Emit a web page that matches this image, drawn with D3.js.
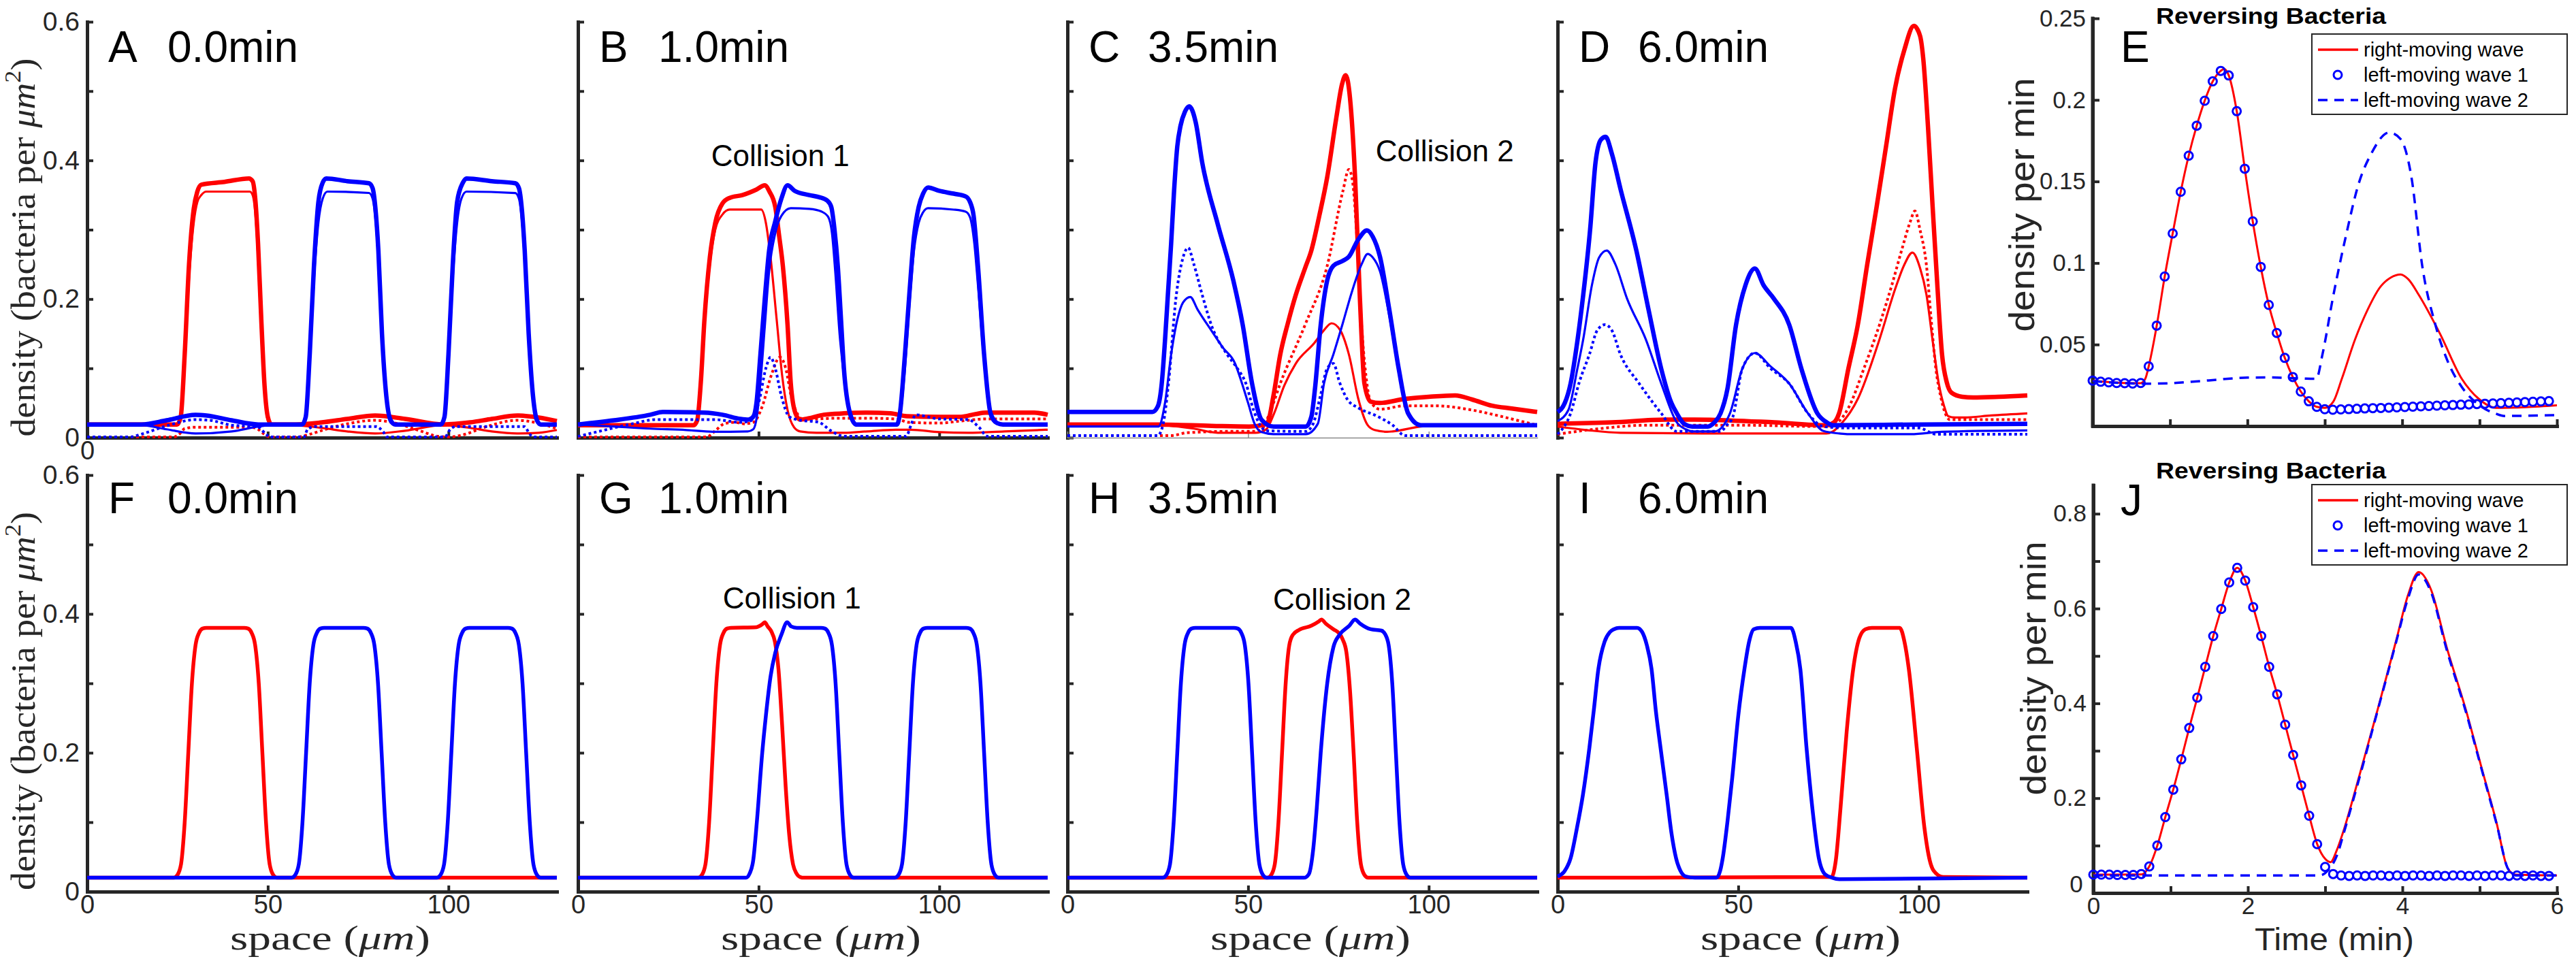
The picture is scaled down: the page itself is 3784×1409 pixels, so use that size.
<!DOCTYPE html>
<html>
<head>
<meta charset="utf-8">
<script src="https://cdn.jsdelivr.net/npm/d3@7"></script>
<style>
  body { margin: 0; background: #fff; }
  svg { display: block; font-family: "Liberation Sans", Arial, sans-serif; }
</style>
</head>
<body>
<script>
// ---- axis ticks / labels ----
const spaceTicks = [0, 50, 100];
const densityTicks = [0, 0.1, 0.2, 0.3, 0.4, 0.5, 0.6];
const densityLabels = [0, 0.2, 0.4, 0.6];
const timeTicks = [0, 1, 2, 3, 4, 5, 6];
const timeLabels = [0, 2, 4, 6];
const rateTicksE = [0.05, 0.1, 0.15, 0.2, 0.25];
const rateTicksJ = [0, 0.1, 0.2, 0.3, 0.4, 0.5, 0.6, 0.7, 0.8];
const rateLabelsJ = [0, 0.2, 0.4, 0.6, 0.8];
const topLetters = ['A', 'B', 'C', 'D'];
const bottomLetters = ['F', 'G', 'H', 'I'];
const snapTimes = ['0.0min', '1.0min', '3.5min', '6.0min'];
const legendNames = ['right-moving wave', 'left-moving wave 1', 'left-moving wave 2'];

// ---- top row: total (thick), subpopulation (thin), reversing part (dotted) ----
const aRedThick = [[0,.019],[24.9,.019],[25.9,.03],[27,.12],[28.2,.25],[29.5,.33],[30.5,.355],[31.6,.365],[38,.369],[44.8,.374],[45.8,.37],[46.6,.34],[47.3,.28],[48.2,.17],[49.1,.075],[50,.03],[51,.019],[57.7,.019],[65,.022],[72,.027],[79.7,.032],[88,.027],[98.6,.019],[106,.022],[112,.027],[119,.032],[125,.029],[130,.024]];
const aRedThin = [[0,.019],[24.9,.019],[25.9,.028],[27,.11],[28.2,.23],[29.5,.31],[30.5,.34],[31.6,.35],[33,.355],[45,.355],[45.8,.35],[46.6,.32],[47.3,.26],[48.2,.15],[49.1,.065],[50,.025],[51,.019],[57.7,.018],[65,.014],[72,.009],[79.7,.006],[88,.01],[98.6,.018],[106,.014],[112,.009],[119,.006],[125,.007],[130,.011]];
const aRedDot = [[0,.001],[24,.001],[25.5,.005],[27,.013],[30,.015],[45,.015],[47,.013],[49,.005],[50.5,.001],[58,.001],[61,.004],[66,.012],[72,.02],[79.7,.025],[86,.02],[92,.01],[97,.002],[100,.001],[104,.004],[110,.015],[119,.025],[124,.022],[130,.013]];
const aBlueThick = [[0,.019],[15,.019],[22,.025],[30,.033],[33,.032],[40,.025],[47.4,.019],[59.5,.019],[60.5,.03],[61.6,.12],[62.8,.25],[64,.34],[65.2,.368],[66.2,.374],[72,.37],[78,.367],[79,.36],[79.8,.33],[80.6,.27],[81.6,.15],[82.8,.06],[84,.025],[85.3,.019],[97.9,.019],[98.9,.03],[100,.12],[101.2,.25],[102.4,.34],[104,.368],[105,.374],[112,.37],[118.5,.367],[119.5,.36],[120.3,.33],[121.1,.27],[122.2,.15],[123.4,.06],[124.5,.025],[125.5,.019],[130,.019]];
const aBlueThin = [[0,.019],[15,.018],[22,.012],[30,.006],[40,.009],[47.4,.016],[52.6,.019],[59.5,.019],[60.5,.028],[61.6,.11],[62.8,.23],[64,.31],[65.2,.345],[66.5,.355],[78,.353],[79,.345],[79.8,.315],[80.6,.255],[81.6,.14],[82.8,.055],[84,.022],[85.3,.019],[97.9,.019],[98.9,.028],[100,.11],[101.2,.23],[102.4,.31],[103.6,.345],[105,.355],[118.5,.353],[119.5,.345],[120.3,.315],[121.1,.255],[122.2,.14],[123.4,.055],[124.5,.022],[125.5,.019],[130,.019]];
const aBlueDot = [[0,.001],[12,.001],[15,.005],[22,.017],[30,.026],[34,.025],[40,.018],[47,.016],[49.5,.005],[50.5,.001],[60,.001],[61,.012],[63,.016],[80,.016],[82,.008],[83,.001],[99,.001],[100.5,.012],[102,.016],[121,.016],[122.5,.005],[123.5,.001],[130,.001]];

const bRedThick = [[0,.018],[32,.018],[33,.025],[34,.08],[35,.17],[36.5,.26],[38,.31],[40,.338],[42,.346],[45.5,.35],[49.4,.358],[51.7,.364],[53,.355],[54.6,.333],[55.7,.29],[56.7,.248],[58,.163],[58.9,.078],[60.2,.035],[61.5,.026],[64,.028],[68,.033],[73.6,.035],[80,.036],[86.5,.035],[91,.031],[100,.03],[106,.03],[110,.034],[113,.036],[126.3,.036],[130,.033]];
const bRedThin = [[0,.018],[32,.018],[33,.024],[34,.075],[35,.16],[36.5,.25],[38,.3],[40,.322],[42,.329],[50.7,.329],[52,.31],[53.3,.26],[55,.17],[56.5,.09],[58,.04],[59.8,.015],[61.5,.009],[66,.007],[73.6,.007],[80,.009],[88,.0115],[92,.0115],[100,.008],[108,.007],[118,.009],[130,.0115]];
const bRedDot = [[0,.001],[35.6,.001],[38,.01],[40.5,.02],[43.4,.022],[46,.02],[48.5,.022],[51,.045],[53.5,.09],[55.9,.116],[57.5,.1],[59,.06],[61,.032],[62.4,.026],[66,.027],[72,.028],[80,.028],[88,.027],[91.7,.022],[100,.021],[106,.024],[113,.027],[130,.027]];
const bBlueThick = [[0,.019],[10,.025],[20,.033],[23.5,.037],[35,.036],[40,.033],[45,.027],[47.2,.026],[48.5,.03],[49.4,.05],[50.5,.12],[51.7,.2],[52.9,.27],[54.6,.312],[56.3,.345],[58,.364],[60,.356],[64,.35],[66.7,.347],[69,.342],[70.1,.333],[71,.3],[71.9,.248],[72.8,.17],[73.6,.1],[75.3,.035],[77,.019],[88.3,.019],[89.1,.035],[90.5,.12],[91.7,.206],[93,.29],[94.3,.333],[95.5,.352],[96.9,.361],[100,.356],[104,.352],[107.3,.348],[108.5,.34],[109.5,.32],[110.7,.248],[112.4,.12],[114.2,.035],[116,.021],[117.6,.019],[130,.019]];
const bBlueThin = [[0,.019],[10,.016],[20,.013],[30,.011],[37.3,.0085],[47,.009],[48.5,.012],[49.5,.03],[50.5,.08],[51.7,.16],[52.9,.24],[54.6,.295],[56.3,.32],[58.9,.331],[64,.33],[67.5,.326],[69.3,.318],[70.3,.295],[71.2,.24],[72.4,.15],[73.6,.09],[75.3,.03],[77,.019],[88.3,.019],[89.1,.03],[90.5,.1],[91.7,.19],[93,.27],[94.3,.31],[95.5,.325],[96.9,.331],[104,.329],[107.3,.326],[108.5,.318],[109.7,.28],[110.7,.22],[112.4,.11],[114.2,.03],[116,.02],[117.6,.019],[130,.019]];
const bBlueDot = [[0,.0017],[5,.008],[15,.02],[21.6,.026],[38,.026],[45,.022],[47.7,.024],[50,.05],[52,.1],[53.3,.116],[54.6,.1],[56.3,.06],[58.5,.03],[60.6,.026],[66.7,.022],[70,.01],[73.6,.002],[90.8,.002],[92.3,.02],[93.4,.033],[100,.027],[108,.026],[111,.015],[113.3,.002],[130,.002]];

const cRedThick = [[0,.019],[25,.019],[40,.017],[50.3,.016],[54,.018],[55.4,.022],[57,.06],[58.9,.12],[61,.165],[63.2,.206],[65.8,.245],[67.5,.27],[69.7,.32],[71.9,.376],[74.4,.461],[76,.51],[77,.523],[78.2,.49],[79.6,.376],[80.9,.206],[82.2,.078],[83.9,.052],[86.5,.05],[93.4,.056],[100,.059],[107.3,.061],[112,.055],[117.6,.046],[123,.042],[130,.037]];
const cRedThin = [[0,.019],[25,.018],[35,.013],[41.6,.007],[52,.007],[55,.012],[57.2,.035],[60,.075],[63.2,.107],[68.4,.137],[71,.155],[73.1,.165],[75.5,.155],[77.9,.12],[80.5,.056],[83.1,.018],[85,.011],[88.5,.0085],[90,.009],[97.8,.016],[105,.018],[130,.019]];
const cRedDot = [[0,.003],[28.7,.003],[33,.007],[45,.009],[51.8,.009],[53.7,.012],[56.3,.04],[58.9,.078],[65.8,.163],[71.9,.248],[76.2,.355],[77.9,.387],[78.9,.37],[80.1,.29],[81.4,.163],[82.6,.09],[83.9,.052],[86.5,.041],[93.4,.046],[102,.046],[110.7,.041],[119,.032],[123.7,.026],[130,.018]];
const cBlueThick = [[0,.037],[23.5,.037],[25,.045],[26.1,.078],[27,.14],[27.8,.206],[28.7,.28],[29.5,.355],[30.4,.42],[31.3,.45],[32.5,.47],[33.7,.478],[35.5,.455],[37.3,.397],[41.6,.308],[45.9,.227],[48.5,.163],[51.1,.078],[53.7,.026],[57,.016],[66,.016],[67.5,.03],[68.5,.07],[70.1,.163],[71.9,.227],[73.6,.248],[76.2,.255],[77.9,.261],[80.5,.286],[82.9,.299],[84.5,.29],[86.5,.261],[89.1,.184],[91.7,.099],[94.3,.035],[97.8,.018],[130,.018]];
const cBlueThin = [[0,.016],[25.2,.016],[27,.05],[28.7,.12],[30.4,.17],[32,.195],[34,.203],[36,.185],[39.9,.154],[43,.13],[46.4,.107],[48.2,.08],[50,.05],[51.8,.02],[53.7,.008],[57,.005],[66,.005],[69.3,.02],[71,.078],[73.6,.12],[76.2,.165],[78.7,.21],[81.4,.25],[83.1,.265],[84.5,.26],[86.5,.24],[89.1,.175],[91.7,.095],[94.3,.033],[97.8,.018],[130,.018]];
const cBlueDot = [[0,.003],[25,.003],[26.5,.02],[28,.08],[30,.2],[32,.26],[33.4,.274],[35,.25],[37.3,.206],[40,.16],[44.2,.12],[47,.1],[49.4,.078],[51.5,.04],[52.9,.022],[55,.01],[66,.009],[68,.02],[70,.06],[71.9,.1],[73.6,.107],[75.3,.08],[77.5,.055],[80.5,.043],[85.7,.031],[90,.018],[93.4,.003],[130,.003]];

const dRedThick = [[0,.02],[15,.022],[30,.026],[38,.026],[60,.022],[74.4,.018],[76.5,.022],[77.9,.035],[80.5,.1],[83.1,.163],[85.7,.25],[88.3,.333],[90.9,.42],[93.4,.504],[96,.56],[98.6,.594],[100.3,.58],[101.2,.547],[102.5,.45],[103.8,.333],[105.1,.22],[106.4,.12],[107.7,.08],[109,.065],[112,.059],[115,.058],[122,.059],[130,.061]];
const dRedThin = [[0,.016],[8,.011],[17.4,.007],[40,.006],[60,.006],[74.4,.006],[76.2,.009],[78.5,.02],[83.1,.056],[89.1,.142],[93.4,.214],[96,.25],[98.2,.267],[100.3,.245],[102.1,.206],[103.8,.14],[105.5,.078],[107,.045],[108.1,.031],[110,.029],[112.4,.029],[120,.032],[130,.035]];
const dRedDot = [[0,.005],[10,.012],[25,.018],[50,.018],[74.4,.016],[77,.02],[80.5,.043],[84.8,.1],[89.1,.163],[92.5,.22],[95.2,.27],[97.5,.31],[98.9,.327],[100.3,.3],[102.1,.248],[103.4,.17],[104.7,.099],[106,.06],[107.3,.035],[108.5,.026],[130,.026]];
const dBlueThick = [[0,.037],[2,.05],[3.6,.078],[5.5,.14],[7.1,.206],[9,.3],[10.5,.397],[12,.43],[13.3,.434],[15,.41],[17.4,.359],[21.8,.27],[25.2,.184],[28.7,.099],[31.5,.05],[33,.035],[35,.02],[37.3,.016],[41.6,.016],[43.4,.022],[45.1,.035],[47,.07],[49.4,.163],[52,.22],[54.6,.244],[57,.22],[59.8,.201],[64.1,.163],[67.5,.099],[71.9,.035],[74.5,.022],[76.2,.018],[100,.019],[130,.02]];
const dBlueThin = [[0,.024],[3,.04],[5.5,.1],[7.1,.142],[9.5,.22],[11.5,.26],[13.6,.27],[16,.25],[19.2,.201],[24.4,.142],[28.7,.078],[33,.022],[35.5,.012],[37.3,.009],[43.4,.009],[45.5,.015],[47.7,.035],[51.1,.099],[54.6,.122],[58.9,.103],[64.1,.078],[69.3,.035],[73.6,.0095],[78,.006],[80.5,.005],[97.8,.005],[106.4,.0085],[130,.0105]];
const dBlueDot = [[0,.005],[3.6,.035],[6,.08],[8.8,.12],[11,.155],[13.1,.163],[15,.155],[17.4,.12],[22.6,.078],[28.7,.035],[33,.009],[45,.009],[46.8,.018],[48.5,.03],[51.1,.099],[54.6,.122],[58.9,.1],[64.1,.078],[69.3,.035],[73.6,.016],[80,.014],[100,.014],[104.7,.005],[130,.005]];

// ---- bottom row: non-reversing bacteria ----
const fRed = [[0,.02],[24,.02],[25,.024],[26,.04],[27,.1],[28,.2],[29,.3],[30,.355],[31,.373],[32,.379],[33,.38],[43.5,.38],[44.5,.379],[45.5,.373],[46.5,.355],[47.5,.3],[48.5,.2],[49.5,.1],[50.5,.04],[51.5,.024],[52.5,.02],[130,.02]];
const fBlue = [[0,.02],[56.6,.02],[57.6,.024],[58.6,.04],[59.6,.1],[60.6,.2],[61.6,.3],[62.6,.355],[63.6,.373],[64.6,.379],[65.6,.38],[76.5,.38],[77.5,.379],[78.5,.373],[79.5,.355],[80.5,.3],[81.5,.2],[82.5,.1],[83.5,.04],[84.5,.024],[85.5,.02],[96.8,.02],[97.8,.024],[98.8,.04],[99.8,.1],[100.8,.2],[101.8,.3],[102.8,.355],[103.8,.373],[104.8,.379],[105.8,.38],[116.5,.38],[117.5,.379],[118.5,.373],[119.5,.355],[120.5,.3],[121.5,.2],[122.5,.1],[123.5,.04],[124.5,.024],[125.5,.02],[130,.02]];
const gRed = [[0,.02],[33.3,.02],[34.3,.024],[35.3,.04],[36.3,.1],[37.3,.2],[38.3,.3],[39.3,.355],[40.3,.373],[41.3,.379],[42.3,.38],[49.4,.381],[51,.385],[51.7,.388],[52.5,.382],[53.5,.375],[54.5,.36],[55.5,.32],[56.5,.24],[57.5,.15],[58.5,.08],[59.5,.04],[60.5,.026],[61.5,.021],[62.5,.02],[130,.02]];
const gBlue = [[0,.02],[46.5,.02],[47.5,.026],[48.5,.045],[49.5,.1],[51,.2],[52,.253],[53.3,.31],[54.6,.344],[56.3,.37],[57.9,.388],[59,.382],[60.6,.38],[67.3,.38],[68.3,.379],[69.3,.373],[70.3,.355],[71.3,.3],[72.3,.2],[73.3,.1],[74.3,.04],[75.3,.024],[76.3,.02],[87.7,.02],[88.7,.024],[89.7,.04],[90.7,.1],[91.7,.2],[92.7,.3],[93.7,.355],[94.7,.373],[95.7,.379],[96.7,.38],[107.4,.38],[108.4,.379],[109.4,.373],[110.4,.355],[111.4,.3],[112.4,.2],[113.4,.1],[114.4,.04],[115.4,.024],[116.4,.02],[130,.02]];
const hRed = [[0,.02],[55.4,.02],[56.4,.024],[57.4,.04],[58.4,.1],[59.4,.2],[60.4,.3],[61.4,.355],[62.4,.37],[64.1,.377],[67.5,.383],[69.5,.389],[70.3,.392],[71.5,.386],[73.6,.378],[75.2,.372],[76.2,.363],[77.2,.345],[78.2,.29],[79.2,.2],[80.2,.1],[81.2,.04],[82.2,.024],[83.2,.02],[130,.02]];
const hBlue = [[0,.02],[26.4,.02],[27.4,.024],[28.4,.04],[29.4,.1],[30.4,.2],[31.4,.3],[32.4,.355],[33.4,.373],[34.4,.379],[35.4,.38],[46.1,.38],[47.1,.379],[48.1,.373],[49.1,.355],[50.1,.3],[51.1,.2],[52.1,.1],[53.1,.04],[54.1,.024],[55.1,.02],[65.5,.02],[66.8,.025],[68,.06],[69,.12],[70.1,.2],[71.9,.3],[73.6,.352],[75.3,.37],[78,.383],[79.6,.392],[81,.386],[83.9,.378],[86.9,.376],[87.9,.371],[88.9,.355],[89.9,.3],[90.9,.2],[91.9,.1],[92.9,.04],[93.9,.024],[94.9,.02],[130,.02]];
const iRed = [[0,.02],[75.8,.021],[77,.045],[78.3,.12],[80,.23],[81.8,.32],[83.5,.365],[85.2,.378],[87,.38],[94.7,.38],[96,.36],[97.2,.321],[99.4,.207],[101.5,.093],[103,.045],[104.1,.03],[106.7,.021],[130,.02]];
const iBlue = [[0,.022],[2,.03],[3.6,.048],[5.3,.09],[7,.139],[8.8,.207],[10,.26],[11.3,.321],[13,.36],[14.5,.374],[15.6,.378],[17,.38],[22,.38],[23.4,.374],[24.7,.355],[26,.321],[27.2,.26],[28.5,.207],[30.2,.139],[31.5,.085],[32.8,.048],[34,.03],[35.4,.022],[38,.02],[44,.02],[45,.03],[45.7,.048],[47,.1],[48.3,.162],[50,.253],[51.7,.32],[53,.36],[54.3,.378],[56,.38],[64.6,.38],[65.9,.36],[67.2,.32],[68.9,.207],[70.6,.116],[72.3,.048],[74,.025],[76,.02],[78,.018],[130,.02]];

// ---- panel E: reversing bacteria, density per min ----
const eRight = [[0,.0279],[0.2,.027],[0.4,.0264],[0.62,.0263],[0.68,.029],[0.724,.0366],[0.828,.0616],[0.931,.0917],[1.034,.1181],[1.138,.1437],[1.241,.1658],[1.345,.1842],[1.448,.1995],[1.552,.2114],[1.655,.2178],[1.7,.219],[1.759,.215],[1.862,.1931],[1.966,.1578],[2.069,.1255],[2.172,.0976],[2.276,.0743],[2.379,.0571],[2.483,.0418],[2.586,.0301],[2.69,.0212],[2.793,.0152],[2.897,.0118],[3.0,.0112],[3.11,.015],[3.22,.029],[3.39,.053],[3.55,.071],[3.72,.0855],[3.85,.091],[3.98,.093],[4.08,.09],[4.22,.08],[4.49,.0565],[4.77,.029],[4.99,.0167],[5.21,.0112],[5.6,.0116],[6,.0127]];
const eLeft1 = [.0279,.0272,.0268,.0264,.0263,.0261,.0264,.0366,.0616,.0917,.1181,.1437,.1658,.1842,.1995,.2114,.2178,.2150,.1931,.1578,.1255,.0976,.0743,.0571,.0418,.0301,.0212,.0152,.0118,.0103,.0100,.0102,.0104,.0106,.0108,.0110,.0111,.0113,.0115,.0117,.0119,.0121,.0123,.0125,.0127,.0129,.0131,.0133,.0135,.0137,.0139,.0141,.0143,.0145,.0147,.0149,.0151,.0153];
const eLeft2 = [[0,.0275],[0.7,.026],[1.0,.0263],[1.5,.028],[2.0,.0297],[2.3,.0298],[2.7,.0292],[2.89,.029],[2.97,.044],[3.11,.080],[3.27,.116],[3.44,.149],[3.6,.167],[3.83,.180],[3.98,.176],[4.12,.1525],[4.26,.098],[4.43,.062],[4.6,.0384],[4.77,.024],[4.99,.013],[5.21,.0076],[5.32,.0062],[6,.0067]];

// ---- panel J: non-reversing bacteria, density per min ----
const jRight = [[0,.0387],[0.62,.039],[0.724,.056],[0.828,.1],[0.931,.16],[1.034,.218],[1.138,.282],[1.241,.348],[1.345,.412],[1.448,.477],[1.552,.542],[1.655,.599],[1.759,.655],[1.862,.686],[1.966,.659],[2.069,.603],[2.172,.542],[2.276,.477],[2.379,.419],[2.483,.355],[2.586,.291],[2.69,.227],[2.793,.163],[2.897,.103],[3.0,.072],[3.07,.065],[3.15,.09],[3.23,.127],[3.43,.24],[3.68,.387],[3.92,.533],[4.07,.627],[4.21,.677],[4.37,.64],[4.57,.52],[4.82,.387],[5.02,.267],[5.22,.147],[5.36,.053],[5.46,.0387],[6,.037]];
const jLeft1 = [.0387,.0387,.0387,.038,.038,.038,.04,.056,.100,.160,.218,.282,.348,.412,.477,.542,.599,.655,.686,.659,.603,.542,.477,.419,.355,.291,.227,.163,.103,.055,.040,.037,.036,.037,.036,.037,.037,.036,.037,.036,.037,.037,.036,.037,.036,.037,.037,.036,.037,.036,.037,.037,.036,.037,.036,.037,.036,.036];
const jLeft2 = [[0,.037],[2.93,.037],[3.02,.045],[3.17,.087],[3.23,.12],[3.43,.235],[3.68,.385],[3.92,.53],[4.07,.62],[4.21,.672],[4.37,.635],[4.57,.515],[4.82,.383],[5.02,.264],[5.22,.145],[5.37,.05],[5.47,.037],[6,.037]];
// sample times of the circle markers (58 samples over 6 min)
const sampleTimes = d3.range(58).map(i => i * 6 / 58);

// annotation positions (data coords of left/baseline)
const collisionNotes = [
  {panel: 'B', text: 'Collision 1', x: 36.9, y: 0.392},
  {panel: 'C', text: 'Collision 2', x: 85.3, y: 0.399},
  {panel: 'G', text: 'Collision 1', x: 40.1, y: 0.408},
  {panel: 'H', text: 'Collision 2', x: 56.9, y: 0.406}
];

// ---------------- drawing ----------------
const W = 3784, H = 1409;
const RED = '#ff0000', BLUE = '#0000ff', AXIS = '#262626';
const svg = d3.select('body').append('svg').attr('width', W).attr('height', H);
svg.append('rect').attr('width', W).attr('height', H).attr('fill', '#fff');

const cols = [128, 849, 1568, 2288];
const panelW = 690;
const rows = [{top: 32, bottom: 643}, {top: 698, bottom: 1310}];
const kinds = {
  thick: {w: 6.5},
  thin: {w: 3.2},
  dot: {w: 4, dash: '4 4'},
  single: {w: 5.5}
};

function styleAxis(g, fontSize, width, color) {
  g.attr('font-family', null).attr('font-size', fontSize);
  g.select('.domain').attr('stroke', color).attr('stroke-width', width).attr('stroke-linecap', 'square');
  g.selectAll('.tick line').attr('stroke', color).attr('stroke-width', Math.max(1.5, width * 0.8));
  g.selectAll('.tick text').attr('fill', AXIS);
}

const panels = [
  {letter: 'A', col: 0, row: 0, xAxis: 'full', xLabels: [0], series: [
    [aRedThick, RED, 'thick'], [aRedThin, RED, 'thin'], [aRedDot, RED, 'dot'],
    [aBlueThick, BLUE, 'thick'], [aBlueThin, BLUE, 'thin'], [aBlueDot, BLUE, 'dot']]},
  {letter: 'B', col: 1, row: 0, xAxis: 'full', xLabels: [], series: [
    [bRedThick, RED, 'thick'], [bRedThin, RED, 'thin'], [bRedDot, RED, 'dot'],
    [bBlueThick, BLUE, 'thick'], [bBlueThin, BLUE, 'thin'], [bBlueDot, BLUE, 'dot']]},
  {letter: 'C', col: 2, row: 0, xAxis: 'thin', xLabels: [], series: [
    [cRedThick, RED, 'thick'], [cRedThin, RED, 'thin'], [cRedDot, RED, 'dot'],
    [cBlueThick, BLUE, 'thick'], [cBlueThin, BLUE, 'thin'], [cBlueDot, BLUE, 'dot']]},
  {letter: 'D', col: 3, row: 0, xAxis: 'none', xLabels: [], series: [
    [dRedThick, RED, 'thick'], [dRedThin, RED, 'thin'], [dRedDot, RED, 'dot'],
    [dBlueThick, BLUE, 'thick'], [dBlueThin, BLUE, 'thin'], [dBlueDot, BLUE, 'dot']]},
  {letter: 'F', col: 0, row: 1, xAxis: 'full', xLabels: spaceTicks, series: [[fRed, RED, 'single'], [fBlue, BLUE, 'single']]},
  {letter: 'G', col: 1, row: 1, xAxis: 'full', xLabels: spaceTicks, series: [[gRed, RED, 'single'], [gBlue, BLUE, 'single']]},
  {letter: 'H', col: 2, row: 1, xAxis: 'full', xLabels: spaceTicks, series: [[hRed, RED, 'single'], [hBlue, BLUE, 'single']]},
  {letter: 'I', col: 3, row: 1, xAxis: 'full', xLabels: spaceTicks, series: [[iRed, RED, 'single'], [iBlue, BLUE, 'single']]}
];

panels.forEach(p => {
  const left = cols[p.col], row = rows[p.row];
  const x = d3.scaleLinear().domain([0, 130]).range([left, left + panelW]);
  const y = d3.scaleLinear().domain([0, 0.6]).range([row.bottom, row.top]);
  const g = svg.append('g');

  const ya = g.append('g').attr('transform', `translate(${left},0)`)
    .call(d3.axisLeft(y).tickValues(densityTicks).tickSize(-9).tickSizeOuter(0).tickPadding(11)
      .tickFormat(d => p.col === 0 && densityLabels.includes(d) ? d3.format('.1~f')(d) : ''));
  styleAxis(ya, 39, 5, AXIS);

  if (p.xAxis !== 'none') {
    const thin = p.xAxis === 'thin';
    const xa = g.append('g').attr('transform', `translate(0,${row.bottom})`)
      .call(d3.axisBottom(x).tickValues(spaceTicks).tickSize(-9).tickSizeOuter(0).tickPadding(5)
        .tickFormat(d => p.xLabels.includes(d) ? d : ''));
    styleAxis(xa, 38, thin ? 1.5 : 5, thin ? '#8a8a8a' : AXIS);
  }

  const line = d3.line().x(d => x(d[0])).y(d => y(d[1])).curve(d3.curveMonotoneX);
  p.series.forEach(([data, color, kind]) => {
    const k = kinds[kind];
    g.append('path').attr('d', line(data)).attr('fill', 'none')
      .attr('stroke', color).attr('stroke-width', k.w)
      .attr('stroke-dasharray', k.dash || null)
      .attr('stroke-linejoin', 'round');
  });

  // panel letter + snapshot time
  const letters = p.row === 0 ? topLetters : bottomLetters;
  const base = p.row === 0 ? row.top + 59 : row.top + 56;
  g.append('text').attr('x', left + 31).attr('y', base).attr('font-size', 64).text(letters[p.col]);
  g.append('text').attr('x', left + 118).attr('y', base).attr('font-size', 64).text(snapTimes[p.col]);

  collisionNotes.filter(n => n.panel === p.letter).forEach(n => {
    g.append('text').attr('x', x(n.x)).attr('y', y(n.y)).attr('font-size', 44).text(n.text);
  });

  if (p.col === 0) {
    const cy = (row.top + row.bottom) / 2 + 26;
    const t = g.append('text')
      .attr('transform', `translate(34,${cy}) rotate(-90)`)
      .attr('text-anchor', 'middle').attr('dominant-baseline', 'central')
      .attr('font-family', '"Liberation Serif", "DejaVu Serif", serif')
      .attr('font-size', 50).attr('fill', AXIS)
      .attr('textLength', 556).attr('lengthAdjust', 'spacingAndGlyphs');
    t.append('tspan').text('density (bacteria per ');
    t.append('tspan').attr('font-style', 'italic').text('μm');
    t.append('tspan').attr('font-size', 34).attr('dy', -16).text('2');
    t.append('tspan').attr('dy', 16).text(')');
  }
  if (p.row === 1) {
    const t = g.append('text')
      .attr('x', left + panelW / 2 + 12).attr('y', 1395)
      .attr('text-anchor', 'middle')
      .attr('font-family', '"Liberation Serif", "DejaVu Serif", serif')
      .attr('font-size', 50).attr('fill', AXIS)
      .attr('textLength', 294).attr('lengthAdjust', 'spacingAndGlyphs');
    t.append('tspan').text('space (');
    t.append('tspan').attr('font-style', 'italic').text('μm');
    t.append('tspan').text(')');
  }
});

// ---- time panels E and J ----
const timePanels = [
  {letter: 'E', left: 3074, right: 3756, top: 27, bottom: 626, yMax: 0.25,
   yTicks: rateTicksE, yLabels: rateTicksE, xLabels: [],
   right_: eRight, left1: eLeft1, left2: eLeft2,
   titleY: 35, letterY: 91, legendTop: 50, yLabelY: 301, yLabelX: 2970},
  {letter: 'J', left: 3075, right: 3756, top: 713, bottom: 1312, yMax: 0.86,
   yTicks: rateTicksJ, yLabels: rateLabelsJ, xLabels: timeLabels,
   right_: jRight, left1: jLeft1, left2: jLeft2,
   titleY: 703, letterY: 757, legendTop: 712, yLabelY: 982, yLabelX: 2987}
];

timePanels.forEach(p => {
  const x = d3.scaleLinear().domain([0, 6]).range([p.left, p.right]);
  const y = d3.scaleLinear().domain([0, p.yMax]).range([p.bottom, p.top]);
  const g = svg.append('g');

  const ya = g.append('g').attr('transform', `translate(${p.left},0)`)
    .call(d3.axisLeft(y).tickValues(p.yTicks).tickSize(-10).tickSizeOuter(0).tickPadding(10)
      .tickFormat(d => p.yLabels.includes(d) ? String(+d.toFixed(2)) : ''));
  styleAxis(ya, 35, 5, AXIS);
  // the zero label sits just above-left of the x "0"
  ya.selectAll('.tick text').filter(d => d === 0).attr('dy', '-0.05em').attr('dx', '-0.15em');
  const xa = g.append('g').attr('transform', `translate(0,${p.bottom})`)
    .call(d3.axisBottom(x).tickValues(timeTicks).tickSize(-10).tickSizeOuter(0).tickPadding(6)
      .tickFormat(d => p.xLabels.includes(d) ? d : ''));
  styleAxis(xa, 35, 5, AXIS);
  g.append('line').attr('x1', p.left).attr('x2', p.left).attr('y1', p.bottom).attr('y2', p.top)
    .attr('stroke', AXIS).attr('stroke-width', 5).attr('stroke-linecap', 'square');

  const line = d3.line().x(d => x(d[0])).y(d => y(d[1])).curve(d3.curveMonotoneX);
  g.append('path').attr('d', line(p.right_)).attr('fill', 'none').attr('stroke', RED).attr('stroke-width', 3);
  g.selectAll('circle.m').data(p.left1).join('circle').attr('class', 'm')
    .attr('cx', (d, i) => x(sampleTimes[i])).attr('cy', d => y(d)).attr('r', 6)
    .attr('fill', 'none').attr('stroke', BLUE).attr('stroke-width', 3);
  g.append('path').attr('d', line(p.left2)).attr('fill', 'none').attr('stroke', BLUE)
    .attr('stroke-width', 3.5).attr('stroke-dasharray', '14 10');

  g.append('text').attr('x', 3167).attr('y', p.titleY).attr('font-size', 33).attr('font-weight', 'bold')
    .attr('textLength', 338).attr('lengthAdjust', 'spacingAndGlyphs').text('Reversing Bacteria');
  g.append('text').attr('x', 3115).attr('y', p.letterY).attr('font-size', 64).text(p.letter);

  // legend
  const lx = 3396, ly = p.legendTop, lw = 375, lh = 118;
  const lg = g.append('g');
  lg.append('rect').attr('x', lx).attr('y', ly).attr('width', lw).attr('height', lh)
    .attr('fill', '#fff').attr('stroke', AXIS).attr('stroke-width', 2);
  const rowsY = [23, 60, 97];
  legendNames.forEach((name, i) => {
    const yy = ly + rowsY[i];
    if (i === 0) lg.append('line').attr('x1', lx + 9).attr('x2', lx + 68).attr('y1', yy).attr('y2', yy)
      .attr('stroke', RED).attr('stroke-width', 3.5);
    if (i === 1) lg.append('circle').attr('cx', lx + 38).attr('cy', yy).attr('r', 6)
      .attr('fill', 'none').attr('stroke', BLUE).attr('stroke-width', 3);
    if (i === 2) lg.append('line').attr('x1', lx + 9).attr('x2', lx + 68).attr('y1', yy).attr('y2', yy)
      .attr('stroke', BLUE).attr('stroke-width', 3.5).attr('stroke-dasharray', '14 10');
    lg.append('text').attr('x', lx + 76).attr('y', yy).attr('dominant-baseline', 'central')
      .attr('font-size', 29).text(name);
  });

  g.append('text').attr('transform', `translate(${p.yLabelX},${p.yLabelY}) rotate(-90)`)
    .attr('text-anchor', 'middle').attr('dominant-baseline', 'central')
    .attr('font-size', 52).attr('fill', AXIS)
    .attr('textLength', 373).attr('lengthAdjust', 'spacingAndGlyphs').text('density per min');

  if (p.xLabels.length) {
    g.append('text').attr('x', 3429).attr('y', 1396).attr('text-anchor', 'middle')
      .attr('font-size', 46).attr('fill', AXIS)
      .attr('textLength', 234).attr('lengthAdjust', 'spacingAndGlyphs').text('Time (min)');
  }
});
</script>
</body>
</html>
